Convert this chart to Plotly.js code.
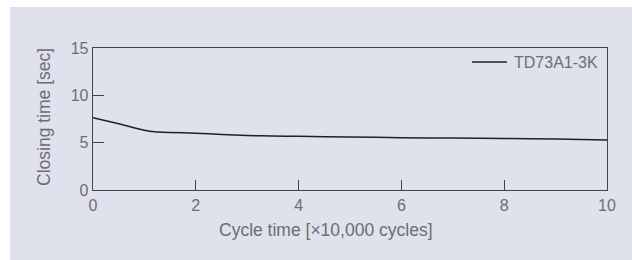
<!DOCTYPE html>
<html>
<head>
<meta charset="utf-8">
<script src="https://cdn.plot.ly/plotly-3.0.1.min.js"></script>
<style>
  html, body { margin: 0; padding: 0; background: #ffffff; }
  #chart { position: absolute; left: 10px; top: 7px; width: 622px; height: 253px; }
</style>
</head>
<body>
<div id="chart"></div>
<script>
// Data
const seriesName = "TD73A1-3K";
const cycles = [0, 0.5, 1, 1.2, 1.5, 2, 2.5, 3, 3.5, 4, 5, 6, 7, 8, 9, 10];
const closingTime = [7.64, 7.0, 6.32, 6.16, 6.08, 6.0, 5.86, 5.76, 5.7, 5.67, 5.6, 5.53, 5.48, 5.44, 5.4, 5.28];
const xTicks = [0, 2, 4, 6, 8, 10];
const yTicks = [0, 5, 10, 15];
const xTitle = "Cycle time [×10,000 cycles]";
const yTitle = "Closing time [sec]";

const textColor = "#6d6e71";
const lineColor = "#231f20";
const bg = "#dfe1ec";
const font = "Liberation Sans, Arial, sans-serif";

const trace = {
  x: cycles,
  y: closingTime,
  type: "scatter",
  mode: "lines",
  name: seriesName,
  showlegend: false,
  line: { color: lineColor, width: 1.5, shape: "spline", smoothing: 0.6 }
};

const layout = {
  width: 622,
  height: 253,
  margin: { l: 83, r: 25, t: 41, b: 70 },
  paper_bgcolor: bg,
  plot_bgcolor: bg,
  font: { family: font, color: textColor, size: 16 },
  showlegend: false,
  xaxis: {
    range: [0, 10],
    tickvals: xTicks,
    ticktext: xTicks.map(String),
    ticks: "inside",
    ticklen: 10,
    tickwidth: 1.2,
    tickcolor: "#444444",
    showline: true,
    linecolor: "#444444",
    linewidth: 1.3,
    mirror: true,
    showgrid: false,
    zeroline: false,
    tickfont: { family: font, size: 16, color: textColor },
    fixedrange: true
  },
  yaxis: {
    range: [0, 15],
    tickvals: yTicks,
    ticktext: yTicks.map(String),
    ticks: "inside",
    ticklen: 11,
    tickwidth: 1.2,
    tickcolor: "#444444",
    showline: true,
    linecolor: "#444444",
    linewidth: 1.3,
    mirror: true,
    showgrid: false,
    zeroline: false,
    tickfont: { family: font, size: 16, color: textColor },
    fixedrange: true
  },
  shapes: [
    {
      type: "line", xref: "paper", yref: "paper",
      x0: 0.7374, x1: 0.8054, y0: 0.9014, y1: 0.9014,
      line: { color: lineColor, width: 1.5 }
    }
  ],
  annotations: [
    {
      text: seriesName, xref: "paper", yref: "paper",
      x: 0.8152, y: 0.9014, xanchor: "left", yanchor: "middle",
      showarrow: false,
      font: { family: font, size: 16, color: textColor }
    },
    {
      text: xTitle, xref: "paper", yref: "paper",
      x: 0.453, y: 0, xanchor: "center", yanchor: "middle",
      yshift: -40, showarrow: false,
      font: { family: font, size: 17.5, color: textColor }
    },
    {
      text: yTitle, xref: "paper", yref: "paper",
      x: 0, y: 0.5, xanchor: "center", yanchor: "middle",
      xshift: -49, yshift: 2, textangle: -90, showarrow: false,
      font: { family: font, size: 17.5, color: textColor }
    }
  ]
};

Plotly.newPlot("chart", [trace], layout, { displayModeBar: false, staticPlot: true });
</script>
</body>
</html>
